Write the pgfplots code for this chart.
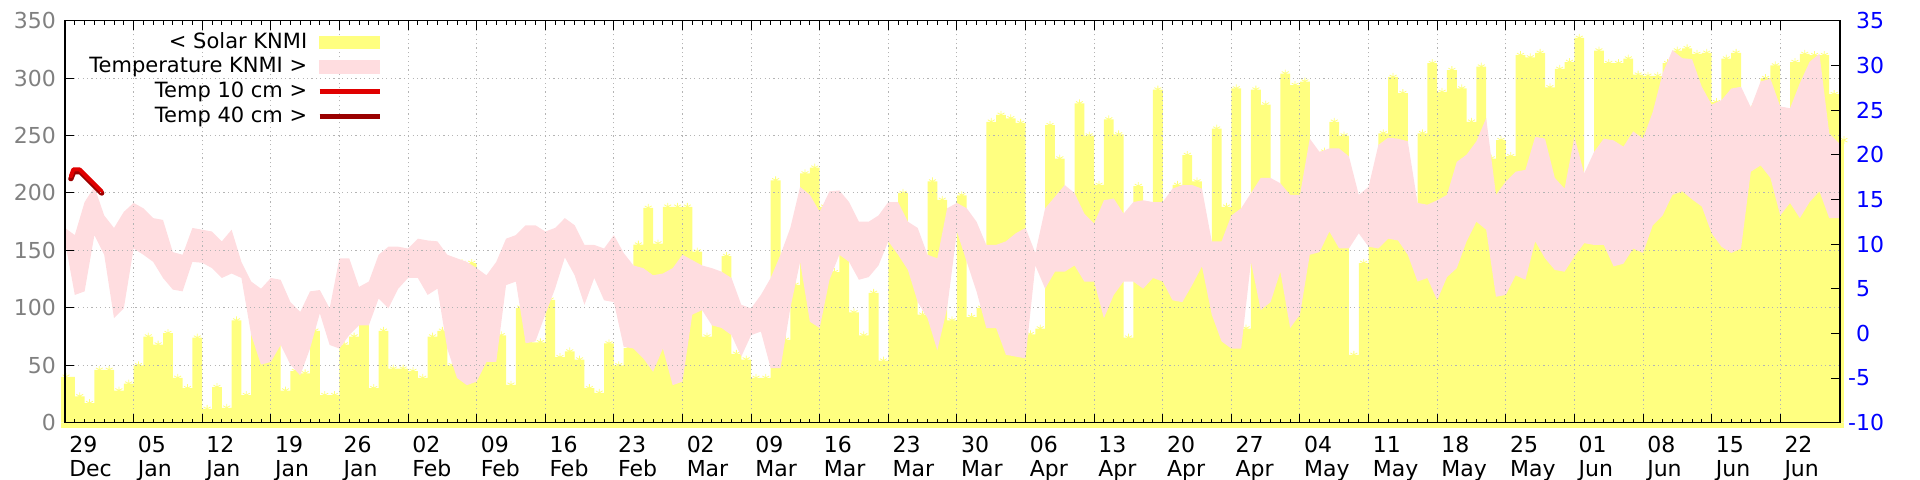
\documentclass[border=0pt]{standalone}
\usepackage{fontspec}
\setmainfont{DejaVu Sans}
\usepackage{pgfplots}
\usepackage{pgfplotstable}
\pgfplotsset{compat=1.18}

\definecolor{solarY}{HTML}{FFFF80}
\definecolor{tempP}{HTML}{FFDDE0}
\definecolor{tten}{HTML}{E00000}
\definecolor{tforty}{HTML}{9A0000}
\definecolor{gridc}{HTML}{B4B4B4}
\definecolor{lefttick}{HTML}{808080}

\pgfplotstableread{
d S
-0.4 40
1 23
2 17
3 46
4 46
5 28
6 34
7 50
8 75
9 68
10 78
11 39
12 30
13 74
14 12
15 31
16 13
17 89
18 24
19 80
20 80
21 78
22 28
23 45
24 43
25 80
26 24
27 24
28 68
29 75
30 85
31 30
32 80
33 47
34 47
35 45
36 39
37 75
38 80
39 50
40 139
41 139
42 56
43 56
44 76
45 33
46 100
47 70
48 70
49 107
50 57
51 62
52 55
53 30
54 26
55 69
56 50
57 65
58 155
59 187
60 156
61 188
62 188
63 188
64 149
65 75
66 95
67 145
68 60
69 55
70 39
71 39
72 211
73 72
74 120
75 217
76 222
77 188
78 131
79 150
80 96
81 76
82 113
83 54
84 158
85 200
86 140
87 94
88 210
89 194
90 89
91 198
92 92
93 100
94 262
95 268
96 265
97 261
98 77
99 82
100 259
101 230
102 150
103 278
104 250
105 207
106 264
107 251
108 74
109 206
110 180
111 290
112 160
113 207
114 233
115 210
116 150
117 256
118 188
119 291
120 82
121 290
122 277
123 200
124 304
125 294
126 297
127 215
128 236
129 262
130 250
131 59
132 139
133 204
134 252
135 301
136 287
137 150
138 252
139 313
140 288
141 307
142 291
143 262
144 310
145 230
146 246
147 232
148 320
149 318
150 322
151 292
152 308
153 314
154 335
155 200
156 324
157 313
158 313
159 317
160 303
161 302
162 302
163 313
164 324
165 326
166 321
167 322
168 279
169 317
170 322
171 274
172 276
173 300
174 311
175 265
176 314
177 321
178 320
179 320
180 286
181 246
181.5 246
}\solardata

\pgfplotstableread{
d up lo
0 11.8 10.3
1 11.0 4.3
2 14.7 4.7
3 16.4 11.0
4 13.2 8.8
5 11.8 1.7
6 13.6 2.8
7 14.6 9.5
8 14.0 8.8
9 12.9 8.0
10 12.7 6.2
11 9.1 4.9
12 8.8 4.7
13 11.8 8.0
14 11.6 7.9
15 11.4 7.3
16 10.3 6.2
17 11.6 6.7
18 8.0 6.2
19 5.8 -0.2
20 5.0 -3.5
21 6.2 -3.2
22 6.0 -1.3
23 3.5 -3.5
24 2.4 -4.7
25 4.7 -1.7
26 4.85 2.24
27 2.8 -1.3
28 8.4 -1.7
29 8.4 -0.2
30 5.2 0.9
31 5.8 0.9
32 8.8 3.9
33 9.7 2.8
34 9.7 5.0
35 9.5 6.2
36 10.6 6.2
37 10.4 4.3
38 10.3 5.0
39 8.8 -1.7
40 8.4 -5.0
41 8.0 -5.8
42 7.3 -5.4
43 6.5 -3.2
44 8.0 -3.2
45 10.6 5.4
46 11.0 5.8
47 12.1 -1.1
48 12.1 -0.9
49 11.4 2.1
50 11.8 5.0
51 12.9 8.5
52 12.1 6.5
53 9.9 3.2
54 9.9 6.2
55 9.5 3.7
56 11.0 3.5
57 9.0 -1.5
58 7.6 -1.7
59 7.3 -2.8
60 6.5 -4.3
61 6.7 -1.7
62 7.3 -5.8
63 8.8 -5.4
64 8.2 2.1
65 7.6 2.6
66 7.3 0.9
67 6.9 0.6
68 6.2 -0.2
69 3.2 -2.6
70 2.8 -0.2
71 4.3 0.2
72 6.2 -3.9
73 8.8 -3.9
74 11.8 2.8
75 16.4 8.0
76 15.5 1.3
77 13.6 0.6
78 15.9 6.0
79 16.0 8.8
80 14.7 8.0
81 12.5 6.0
82 12.5 6.3
83 13.2 7.6
84 14.7 10.3
85 14.7 8.8
86 12.5 7.1
87 11.8 3.5
88 8.8 1.7
89 8.4 -1.9
90 14.0 2.8
91 14.6 11.4
92 14.0 8.0
93 12.5 4.7
94 9.9 0.6
95 9.9 0.6
96 10.3 -2.4
97 11.2 -2.6
98 11.8 -2.8
99 9.0 7.6
100 14.0 5.0
101 15.3 6.9
102 16.6 6.9
103 15.7 7.6
104 13.4 5.8
105 12.3 5.8
106 14.9 1.7
107 15.1 4.3
108 13.4 5.8
109 14.7 5.8
110 14.9 5.0
111 14.7 6.2
112 14.7 5.8
113 16.2 3.7
114 16.6 3.5
115 16.6 5.4
116 16.2 7.5
117 10.3 2.1
118 10.3 -0.9
119 13.2 -1.7
120 14.0 -1.7
121 15.7 8.0
122 17.4 2.6
123 17.4 3.5
124 16.8 6.9
125 15.5 0.6
126 15.5 2.1
127 21.8 8.8
128 20.3 9.1
129 20.7 11.4
130 20.7 9.5
131 19.8 9.5
132 15.5 11.2
133 16.4 9.7
134 21.1 9.5
135 21.9 10.6
136 21.8 10.4
137 21.5 8.8
138 14.6 5.8
139 14.4 6.2
140 14.9 3.7
141 15.5 6.3
142 19.2 7.3
143 20.0 10.3
144 21.5 12.5
145 24.1 11.6
146 15.5 4.1
147 17.0 4.3
148 18.1 6.5
149 18.3 6.0
150 22.0 10.3
151 21.8 8.4
152 17.4 7.1
153 16.2 6.9
154 22.0 8.6
155 17.9 10.1
156 20.3 9.9
157 21.8 9.9
158 21.6 7.5
159 20.9 7.8
160 22.6 9.5
161 21.8 9.0
162 24.8 12.1
163 29.1 13.2
164 31.7 15.5
165 30.8 15.9
166 30.7 15.0
167 27.6 14.2
168 25.6 11.2
169 26.1 9.7
170 27.4 9.0
171 27.6 9.5
172 25.3 18.1
173 28.2 18.8
174 28.5 17.4
175 25.4 13.2
176 25.2 14.6
177 28.0 12.9
178 30.4 14.7
179 31.3 15.9
180 22.4 12.9
181 21.3 12.9
181.6 21.0 13.0
}\tempdata

\pgfplotsset{
  base/.style={scale only axis, width=887.5pt, height=201pt,
    at={(32.5pt,28.65pt)}, anchor=south west, xmin=0, xmax=181.1},
  tickfont/.style={font=\fontsize{11}{13}\selectfont},
}

\begin{document}
\begin{tikzpicture}[x=1pt,y=1pt]
\path[use as bounding box] (0,0) rectangle (960,240);

% solar (left scale)
\begin{axis}[base, ymin=0, ymax=350, hide axis, clip=false]
\addplot[fill=solarY, draw=none] coordinates {(-0.4,-4.5) (181.5,-4.5)} \closedcycle;
\addplot[fill=solarY, draw=none, const plot mark left] table[x=d, y=S]{\solardata} \closedcycle;
\addplot[only marks, mark=asterisk, mark size=2pt, solarY, line width=0.4pt,
  skip coords between index={182}{183}] table[x expr=\thisrow{d}+0.5, y=S]{\solardata};
\end{axis}

% temperature (right scale)
\begin{axis}[base, ymin=-10, ymax=35, axis on top,
  xtick=\empty,
  ytick={-10,-5,...,35}, ytick pos=right, yticklabel pos=right,
  yticklabels={-10,-5,\hphantom{-}0,\hphantom{-}5,\hphantom{-}10,\hphantom{-}15,\hphantom{-}20,\hphantom{-}25,\hphantom{-}30,\hphantom{-}35},
  yticklabel style={tickfont, blue, anchor=west, xshift=0.5pt},
  tick style={black, line width=0.5pt}, major tick length=4.5pt]
\addplot[draw=none, stack plots=y, forget plot] table[x=d, y=lo]{\tempdata};
\addplot[fill=tempP, draw=none, stack plots=y] table[x=d, y expr=\thisrow{up}-\thisrow{lo}]{\tempdata} \closedcycle;
\addplot[stack plots=false, tforty, line width=2.6pt, line join=round, line cap=round] coordinates {(0.6,17.3) (0.9,18.1) (1.55,18.1) (3.75,15.7)};
\addplot[stack plots=false, tten, line width=2.0pt, line join=round, line cap=round] coordinates {(0.6,17.6) (0.85,18.35) (1.5,18.35) (3.7,15.95)};
\end{axis}

% frame, grid, ticks, legend (left scale)
\begin{axis}[base, ymin=0, ymax=350, axis on top,
  xtick={0,7,...,175},
  xticklabels={{29\\Dec},{05\\Jan},{12\\Jan},{19\\Jan},{26\\Jan},{02\\Feb},{09\\Feb},{16\\Feb},{23\\Feb},{02\\Mar},{09\\Mar},{16\\Mar},{23\\Mar},{30\\Mar},{06\\Apr},{13\\Apr},{20\\Apr},{27\\Apr},{04\\May},{11\\May},{18\\May},{25\\May},{01\\Jun},{08\\Jun},{15\\Jun},{22\\Jun}},
  minor x tick num=6, xtick pos=both, xticklabel pos=bottom,
  ytick={0,50,...,350}, ytick pos=left,
  yticklabels={0,50,100,150,200,250,300,350},
  yticklabel style={tickfont, lefttick, xshift=-1pt},
  xticklabel style={font=\fontsize{11}{11.8}\selectfont, align=left, anchor=north west, xshift=-1.4pt, yshift=-3.3pt},
  grid=major, major grid style={gridc, dash pattern=on 0.6pt off 1.6pt, line width=0.5pt},
  tick style={black, line width=0.5pt}, major tick length=4.5pt, minor tick length=2pt,
  axis line style={line width=0.6pt},
  legend plot pos=right, legend cell align=right,
  legend style={draw=none, fill=none, at={(0.1786,0.976)}, anchor=north east,
    inner sep=0pt, outer sep=0pt, row sep=0pt, column sep=1.6pt,
    font=\fontsize{10.5}{12}\selectfont,
    nodes={text height=8.05pt, text depth=2.35pt, inner sep=0.95pt, inner xsep=3.3pt}}]
\addplot[draw=none, forget plot] table[x=d, y=S]{\solardata};
\addlegendimage{legend image code/.code={\fill[solarY] (0pt,-2.9pt) rectangle (30pt,2.9pt);}}
\addlegendentry{< Solar KNMI}
\addlegendimage{legend image code/.code={\fill[tempP] (0pt,-3.25pt) rectangle (30pt,3.25pt);}}
\addlegendentry{Temperature KNMI >}
\addlegendimage{legend image code/.code={\draw[tten, line width=2.5pt] (0pt,0pt) -- (30pt,0pt);}}
\addlegendentry{Temp 10 cm >}
\addlegendimage{legend image code/.code={\draw[tforty, line width=2.5pt] (0pt,0pt) -- (30pt,0pt);}}
\addlegendentry{Temp 40 cm >}
\end{axis}
\end{tikzpicture}
\end{document}
